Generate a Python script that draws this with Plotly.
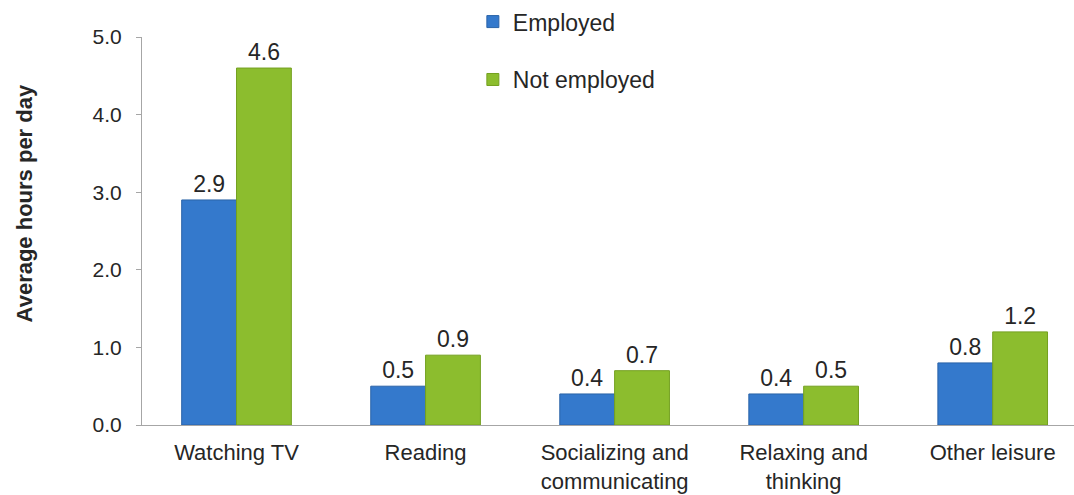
import plotly.graph_objects as go

categories = ["Watching TV", "Reading", "Socializing and<br>communicating",
              "Relaxing and<br>thinking", "Other leisure"]
employed = [2.9, 0.5, 0.4, 0.4, 0.8]
not_employed = [4.6, 0.9, 0.7, 0.5, 1.2]
y_ticks = [0, 1, 2, 3, 4, 5]
y_tick_labels = ["0.0", "1.0", "2.0", "3.0", "4.0", "5.0"]

FONT = "Liberation Sans, Arial, sans-serif"
TEXT = "#262626"

fig = go.Figure()
fig.add_trace(go.Bar(
    name="Employed", x=categories, y=employed,
    marker=dict(color="#3479cc", line=dict(color="#2a63a8", width=1)),
    text=[f"{v:.1f}" for v in employed], textposition="outside",
    textfont=dict(size=23, color=TEXT, family=FONT), cliponaxis=False,
    legendgroup="a",
))
fig.add_trace(go.Bar(
    name="Not employed", x=categories, y=not_employed,
    marker=dict(color="#8cbd2e", line=dict(color="#74a020", width=1)),
    text=[f"{v:.1f}" for v in not_employed], textposition="outside",
    textfont=dict(size=23, color=TEXT, family=FONT), cliponaxis=False,
    legendgroup="b",
))

# Y-axis title placed as a rotated annotation to sit slightly above centre
fig.add_annotation(
    text="<b>Average hours per day</b>", textangle=-90,
    xref="paper", yref="paper", x=-0.126, y=0.57,
    xanchor="center", yanchor="middle", showarrow=False,
    font=dict(size=22, color=TEXT, family=FONT),
)

fig.update_layout(
    width=1074, height=495,
    margin=dict(l=142, r=0, t=34, b=70),
    paper_bgcolor="white", plot_bgcolor="white",
    font=dict(family=FONT, color=TEXT, size=20),
    barmode="group", bargap=0.42, bargroupgap=0,
    showlegend=True,
    legend=dict(x=0.355, y=1.095, xanchor="left", yanchor="top",
                font=dict(size=23, color=TEXT, family=FONT),
                tracegroupgap=25, itemwidth=30, bgcolor="rgba(0,0,0,0)"),
    xaxis=dict(range=[-0.5, 4.43], showline=True, linecolor="#a6a6a6",
               linewidth=1, ticks="", tickfont=dict(size=22, color=TEXT),
               ticklabelstandoff=8, showgrid=False),
    yaxis=dict(range=[0, 5], tickvals=y_ticks, ticktext=y_tick_labels,
               showline=True, linecolor="#a6a6a6", linewidth=1,
               ticks="outside", ticklen=5, tickcolor="#a6a6a6",
               ticklabelstandoff=10,
               tickfont=dict(size=21, color=TEXT), showgrid=False,
               zeroline=False),
)

fig.write_html("out.html")
